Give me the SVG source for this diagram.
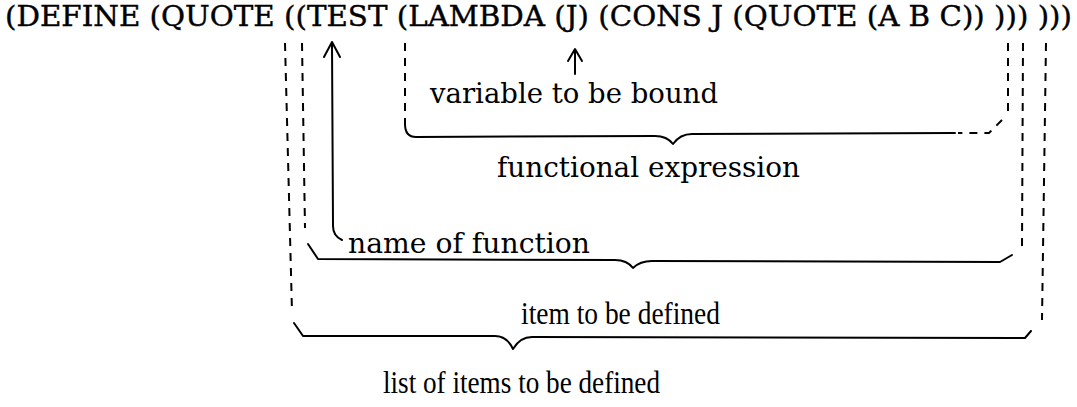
<svg xmlns="http://www.w3.org/2000/svg" width="1077" height="407" viewBox="0 0 1077 407">
<style>
.t{font-family:"DejaVu Serif","Liberation Serif",serif;font-size:28px;fill:#000}
.n{font-family:"Liberation Serif","Times New Roman",serif;font-size:31px;fill:#000}
.s{fill:none;stroke:#000;stroke-width:2;stroke-linecap:round;stroke-linejoin:round}
.d{fill:none;stroke:#000;stroke-width:2;stroke-dasharray:8 7}
</style>
<rect width="1077" height="407" fill="#fff"/>
<g id="expression">
<text class="t" x="5" y="26" textLength="1067" lengthAdjust="spacingAndGlyphs" stroke="#000" stroke-width="0.4">(DEFINE (QUOTE ((TEST (LAMBDA (J) (CONS J (QUOTE (A B C)) ))) )))</text>
</g>
<g id="variable-label"><text class="t" x="430" y="103" textLength="288" lengthAdjust="spacingAndGlyphs">variable to be bound</text></g>
<g id="functional-label"><text class="t" x="497" y="177" textLength="303" lengthAdjust="spacingAndGlyphs">functional expression</text></g>
<g id="name-label"><text class="t" x="348" y="253" textLength="242" lengthAdjust="spacingAndGlyphs">name of function</text></g>
<g id="item-label"><text class="n" x="521" y="324" textLength="199" lengthAdjust="spacingAndGlyphs">item to be defined</text></g>
<g id="list-label"><text class="n" x="383" y="393" textLength="277" lengthAdjust="spacingAndGlyphs">list of items to be defined</text></g>
<g id="connectors">
<!-- J arrow -->
<path class="s" d="M575,74 L575,50 M568,61 L575,49 L582,61"/>
<!-- TEST arrow -->
<path class="s" d="M342,240 Q333,236 333,226 L332,44 M324,57 L332,42 L340,57"/>
<!-- functional expression brace -->
<path class="d" d="M405,43 L405,124"/>
<path class="s" d="M405,124 Q405,137 416,137 L655,136 Q667,136 673,144 Q680,134 692,134 L955,133"/>
<path class="d" d="M1008,43 L1008,115 M1002,120 L989,133 L958,133"/>
<!-- name of function brace -->
<path class="d" d="M302,43 L305,228"/>
<path class="s" d="M308,244 L318,259 L615,260 Q627,260 633,268 Q640,261 652,261 L1000,262 L1012,255"/>
<path class="d" d="M1023,43 L1022,248"/>
<!-- outer brace -->
<path class="d" d="M285,43 L292,312"/>
<path class="s" d="M294,323 L303,336 L495,336 Q507,336 513,349 Q520,337 532,337 L1025,338 L1031,331"/>
<path class="d" d="M1046,43 L1042,320"/>
</g>
</svg>
